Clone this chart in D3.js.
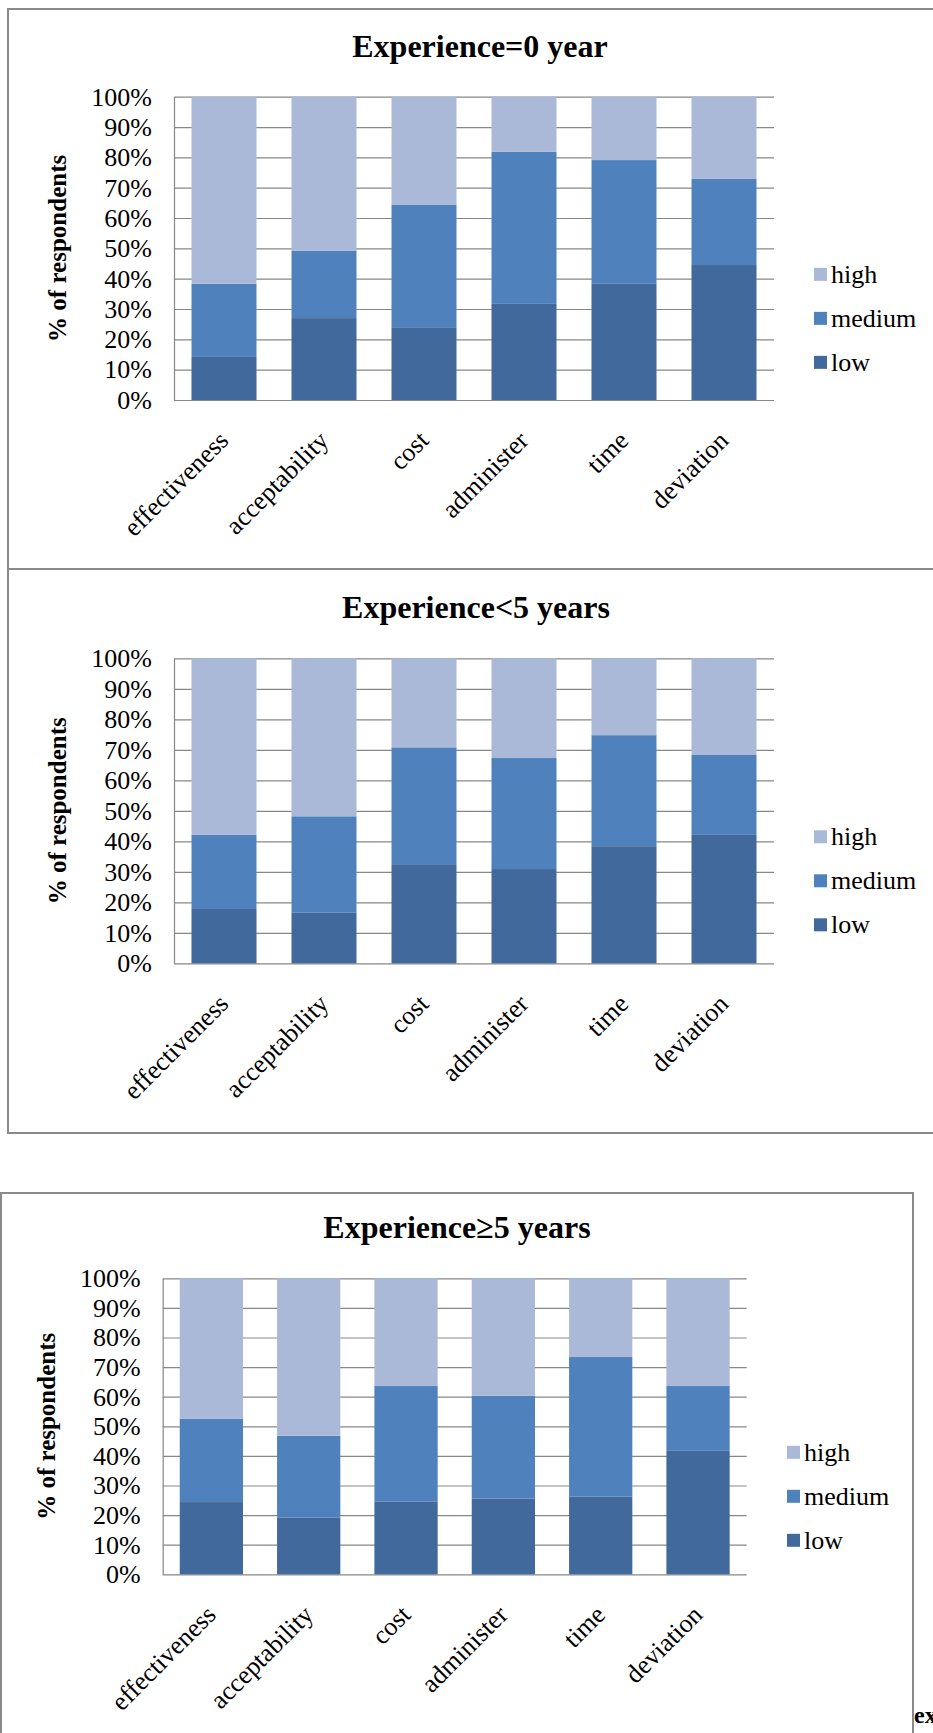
<!DOCTYPE html>
<html>
<head>
<meta charset="utf-8">
<script src="https://cdn.jsdelivr.net/npm/d3@7"></script>
<style>
  body { margin: 0; background: #fff; }
  svg { display: block; font-family: "Liberation Serif", "Times New Roman", serif; }
</style>
</head>
<body>
<div id="chart"></div>
<script>
// categories and tick values
const categories = ["effectiveness", "acceptability", "cost", "administer", "time", "deviation"];
const levels = ["low", "medium", "high"];
const legendOrder = ["high", "medium", "low"];
const yTicks = [0, 10, 20, 30, 40, 50, 60, 70, 80, 90, 100];

// Experience=0 year (% of respondents)
const low0 = [14.2, 27.0, 24.0, 31.7, 38.3, 44.5];
const medium0 = [24.1, 22.2, 40.3, 50.1, 40.8, 28.4];
const high0 = [61.7, 50.8, 35.7, 18.2, 20.9, 27.1];

// Experience<5 years
const low1 = [17.8, 16.7, 32.5, 30.9, 38.4, 42.1];
const medium1 = [24.3, 31.5, 38.3, 36.4, 36.4, 26.2];
const high1 = [57.9, 51.8, 29.2, 32.7, 25.2, 31.7];

// Experience>=5 years
const low2 = [24.4, 19.1, 24.5, 25.6, 26.2, 41.7];
const medium2 = [28.1, 27.7, 39.1, 34.7, 47.2, 21.9];
const high2 = [47.5, 53.2, 36.4, 39.7, 26.6, 36.4];

const colors = { low: "#41699B", medium: "#4F81BD", high: "#AAB9D7" };
const gridColor = "#878787";
const frameColor = "#8a8a8a";

const svg = d3.select("#chart").append("svg")
    .attr("width", 933)
    .attr("height", 1733);

// cadres des trois graphiques
const frames = [
  { x: 8, y: 9, w: 940, h: 560 },
  { x: 8, y: 569, w: 940, h: 564 },
  { x: 1, y: 1193, w: 912, h: 600 }
];
svg.selectAll("rect.frame")
  .data(frames)
  .join("rect")
    .attr("class", "frame")
    .attr("x", d => d.x)
    .attr("y", d => d.y)
    .attr("width", d => d.w)
    .attr("height", d => d.h)
    .attr("fill", "none")
    .attr("stroke", frameColor)
    .attr("stroke-width", 2);

const panels = [
  { title: "Experience=0 year", low: low0, medium: medium0, high: high0,
    x0: 174, x1: 774, top: 96.7, bottom: 400, titleX: 480, legendX: 814 },
  { title: "Experience<5 years", low: low1, medium: medium1, high: high1,
    x0: 174, x1: 774, top: 658.3, bottom: 963.3, titleX: 476, legendX: 814 },
  { title: "Experience\u22655 years", low: low2, medium: medium2, high: high2,
    x0: 162.7, x1: 746.7, top: 1278.3, bottom: 1574.3, titleX: 457, legendX: 787 }
];

panels.forEach(p => {
  const g = svg.append("g");

  const rows = categories.map((c, i) => ({ cat: c, low: p.low[i], medium: p.medium[i], high: p.high[i] }));
  const series = d3.stack().keys(levels)(rows);

  const x = d3.scaleBand()
    .domain(categories)
    .range([p.x0, p.x1])
    .paddingInner(0.35)
    .paddingOuter(0.175);

  const y = d3.scaleLinear()
    .domain([0, 100])
    .range([p.bottom, p.top]);

  // axe Y + lignes de grille
  const yAxis = g.append("g")
    .attr("transform", "translate(" + p.x0 + ",0)")
    .call(d3.axisLeft(y)
      .tickValues(yTicks)
      .tickSize(-(p.x1 - p.x0))
      .tickSizeOuter(0)
      .tickPadding(22)
      .tickFormat(d => d + "%"));
  yAxis.selectAll("line").attr("stroke", gridColor).attr("stroke-width", 1.2);
  yAxis.select(".domain").attr("stroke", gridColor).attr("stroke-width", 1.2);
  yAxis.selectAll("text")
    .attr("fill", "#000")
    .style("font-size", "26px")
    .style("font-family", "'Liberation Serif', 'Times New Roman', serif");

  // barres empilées
  g.selectAll("g.layer")
    .data(series)
    .join("g")
      .attr("class", "layer")
      .attr("fill", d => colors[d.key])
    .selectAll("rect")
    .data(d => d)
    .join("rect")
      .attr("x", d => x(d.data.cat))
      .attr("y", d => y(d[1]))
      .attr("width", x.bandwidth())
      .attr("height", d => y(d[0]) - y(d[1]));

  // étiquettes des catégories
  g.selectAll("text.cat")
    .data(categories)
    .join("text")
      .attr("class", "cat")
      .attr("transform", d => "translate(" + (x(d) + x.bandwidth() / 2 + 6) + "," + (p.bottom + 42) + ") rotate(-45)")
      .attr("text-anchor", "end")
      .style("font-size", "26px")
      .text(d => d);

  // titre
  g.append("text")
    .attr("x", p.titleX)
    .attr("y", p.top - 40)
    .attr("text-anchor", "middle")
    .style("font-size", "32px")
    .style("font-weight", "bold")
    .text(p.title);

  // titre de l'axe Y
  g.append("text")
    .attr("transform", "translate(" + (p.x0 - 108) + "," + ((p.top + p.bottom) / 2) + ") rotate(-90)")
    .attr("text-anchor", "middle")
    .style("font-size", "25px")
    .style("font-weight", "bold")
    .text("% of respondents");

  // légende
  const legendMid = (p.top + p.bottom) / 2 + 70;
  const leg = g.selectAll("g.leg")
    .data(legendOrder)
    .join("g")
      .attr("class", "leg")
      .attr("transform", (d, i) => "translate(" + p.legendX + "," + (legendMid + (i - 1) * 44) + ")");
  leg.append("rect")
    .attr("x", 0)
    .attr("y", -6.5)
    .attr("width", 13)
    .attr("height", 13)
    .attr("fill", d => colors[d]);
  leg.append("text")
    .attr("x", 17)
    .attr("dy", "0.33em")
    .style("font-size", "26px")
    .text(d => d);
});

// texte coupé en bas à droite
svg.append("text")
  .attr("x", 914)
  .attr("y", 1723)
  .style("font-size", "24px")
  .style("font-weight", "bold")
  .text("ex");
</script>
</body>
</html>
